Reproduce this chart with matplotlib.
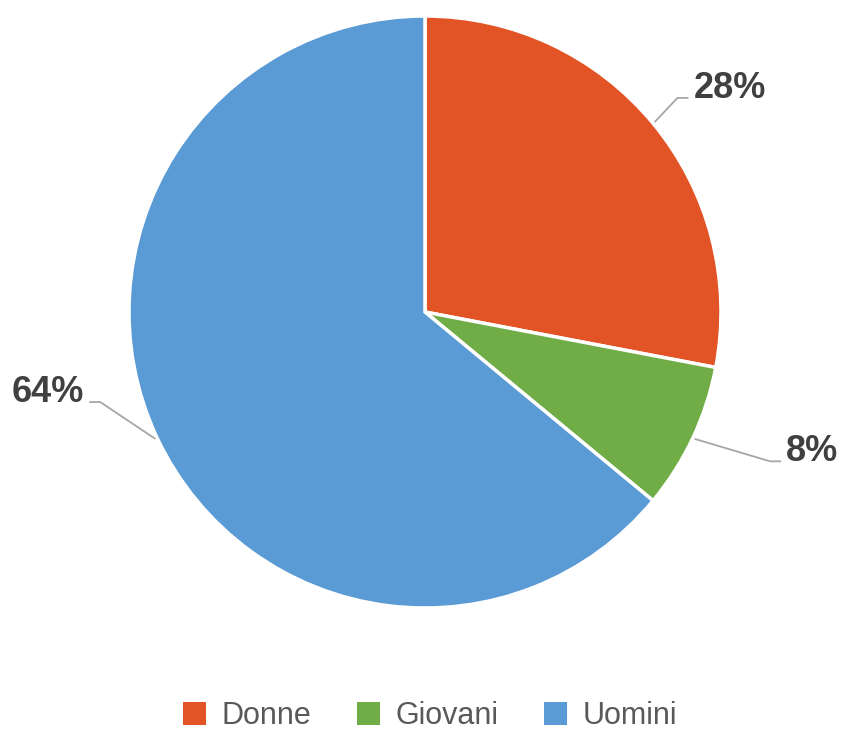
import numpy as np
import matplotlib.pyplot as plt
from matplotlib.patches import Patch

# data
categories = ['Donne', 'Giovani', 'Uomini']
values = [28, 8, 64]
colors = ['#E25325', '#70AD47', '#5B9BD5']

# layout of the leader-line elbows (radius in px, angle in degrees)
elbow_r = [331, 376, 337]
elbow_ang = [40.3, -23.4, -164.5]

fig = plt.figure(figsize=(8.43, 7.33), dpi=100)
ax = fig.add_axes([0, 0, 1, 1])

cx, cy, R = 425, 421, 296
wedges, _ = ax.pie(values, colors=colors, startangle=90, counterclock=False,
                   center=(cx, cy), radius=R, frame=True,
                   wedgeprops=dict(edgecolor='white', linewidth=2.5))
ax.set_xlim(0, 843)
ax.set_ylim(0, 733)
ax.set_aspect('equal')
ax.axis('off')

total = sum(values)
for w, v, er, ea in zip(wedges, values, elbow_r, elbow_ang):
    mid = np.deg2rad((w.theta1 + w.theta2) / 2)
    x0, y0 = cx + 298 * np.cos(mid), cy + 298 * np.sin(mid)
    x1, y1 = cx + er * np.cos(np.deg2rad(ea)), cy + er * np.sin(np.deg2rad(ea))
    side = 1 if x1 > cx else -1
    x2 = x1 + side * 11
    ax.plot([x0, x1, x2], [y0, y1, y1], color='#A6A6A6', lw=1.3,
            solid_capstyle='butt')
    ax.text(x2 + side * 5, y1, f'{round(100 * v / total)}%',
            ha='left' if side > 0 else 'right', va='baseline',
            fontsize=26, fontweight='bold', color='#404040',
            family='Liberation Sans')

handles = [Patch(facecolor=c, edgecolor='none') for c in colors]
fig.legend(handles, categories, loc='center', ncol=3,
           bbox_to_anchor=(0.51, 1 - 716 / 733), frameon=False,
           prop={'family': 'Liberation Sans', 'size': 22},
           labelcolor='#595959', handlelength=0.75, handleheight=0.75,
           handletextpad=0.5, columnspacing=1.5)

fig.savefig('out.png', dpi=100)
